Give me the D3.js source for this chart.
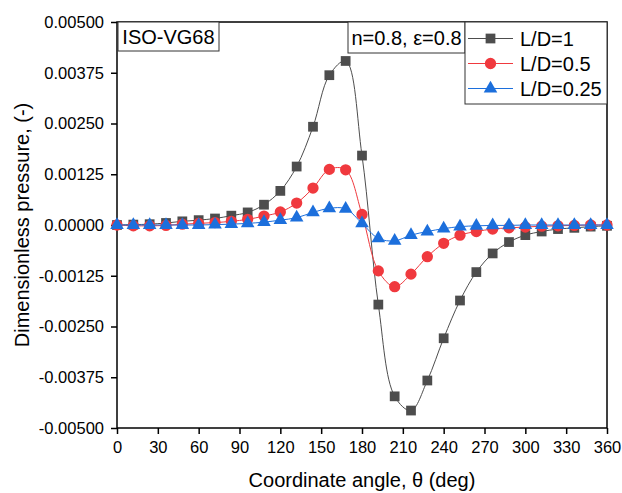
<!DOCTYPE html>
<html>
<head>
<meta charset="utf-8">
<script src="https://cdn.jsdelivr.net/npm/d3@7/dist/d3.min.js"></script>
<style>
  body { margin: 0; background: #fff; }
  text { font-family: "Liberation Sans", Arial, sans-serif; fill: #000; }
</style>
</head>
<body>
<div id="chart"></div>
<script>
// coordinate angle (deg)
const theta = [0, 12, 24, 36, 48, 60, 72, 84, 96, 108, 120, 132, 144, 156, 168, 180,
  192, 204, 216, 228, 240, 252, 264, 276, 288, 300, 312, 324, 336, 348, 360];

// dimensionless pressure
const ld1 = [0, 0.00001, 0.00002, 0.00005, 0.00009, 0.00012, 0.00016, 0.00023, 0.00031, 0.0005, 0.00084, 0.00144,
  0.00242, 0.00369, 0.00404, 0.00171, -0.00196, -0.00422, -0.00457, -0.00383, -0.00279, -0.00186,
  -0.00116, -0.0007, -0.00042, -0.00025, -0.00016, -0.0001, -0.00007, -0.00004, -0.00002];
const ld05 = [0, -0.00002, -0.00002, -0.00001, 0.00002, 0.00004, 0.00006, 0.00009, 0.00014, 0.00022, 0.00032, 0.00054,
  0.00091, 0.00137, 0.00136, 0.00026, -0.00113, -0.00152, -0.00121, -0.00078, -0.00045, -0.00025,
  -0.00016, -0.0001, -0.00007, -0.00005, -0.00003, -0.00002, -0.00001, 0, 0];
const ld025 = [0, 0, 0, 0, 0, 0, 0.00001, 0.00002, 0.00004, 0.00007, 0.00012, 0.00018,
  0.00031, 0.00041, 0.0004, 0.00004, -0.00033, -0.00039, -0.00025, -0.00016, -0.00009, -0.00004,
  -0.00002, -0.00001, -0.00001, 0, 0, 0, 0, 0, 0];

const xTicks = [0, 30, 60, 90, 120, 150, 180, 210, 240, 270, 300, 330, 360];
const yTicks = [-0.005, -0.00375, -0.0025, -0.00125, 0, 0.00125, 0.0025, 0.00375, 0.005];

const seriesNames = ["L/D=1", "L/D=0.5", "L/D=0.25"];
const seriesColors = ["#4d4d4d", "#f0393e", "#1c6fdc"];
const seriesSymbols = [d3.symbolSquare, d3.symbolCircle, d3.symbolTriangle];
const symbolSizes = [95, 100, 80];

const width = 622, height = 493;
const margin = { top: 22, right: 15, bottom: 65, left: 117 };
const w = width - margin.left - margin.right;
const h = height - margin.top - margin.bottom;

const svg = d3.select("#chart").append("svg")
  .attr("width", width)
  .attr("height", height);

const g = svg.append("g")
  .attr("transform", `translate(${margin.left},${margin.top})`);

const x = d3.scaleLinear().domain([0, 360]).range([0, w]);
const y = d3.scaleLinear().domain([-0.005, 0.005]).range([h, 0]);

// axes
const xAxis = g.append("g")
  .attr("transform", `translate(0,${h})`)
  .call(d3.axisBottom(x).tickValues(xTicks).tickSize(6).tickPadding(7).tickSizeOuter(0));
const yAxis = g.append("g")
  .call(d3.axisLeft(y).tickValues(yTicks).tickSize(6).tickPadding(7).tickSizeOuter(0)
    .tickFormat(d => d.toFixed(5)));

[xAxis, yAxis].forEach(a => {
  a.selectAll("text").style("font-size", "16.5px").style("font-family", "'Liberation Sans', Arial, sans-serif");
  a.selectAll("line").attr("stroke", "#000").attr("stroke-width", 1.5);
  a.select(".domain").remove();
});

// frame
g.append("rect")
  .attr("x", 0).attr("y", 0).attr("width", w).attr("height", h)
  .attr("fill", "none").attr("stroke", "#000").attr("stroke-width", 1.5);

// axis titles
svg.append("text")
  .attr("x", margin.left + w / 2).attr("y", 487)
  .attr("text-anchor", "middle").style("font-size", "20px")
  .text("Coordinate angle, θ (deg)");
svg.append("text")
  .attr("transform", `translate(29,${margin.top + h / 2}) rotate(-90)`)
  .attr("text-anchor", "middle").style("font-size", "20px")
  .text("Dimensionless pressure, (-)");

// series
const allSeries = [ld1, ld05, ld025];
const line = d3.line()
  .x(d => x(d[0]))
  .y(d => y(d[1]))
  .curve(d3.curveCatmullRom.alpha(0.5));

allSeries.forEach((vals, i) => {
  const pts = theta.map((t, k) => [t, vals[k]]);
  g.append("path")
    .datum(pts)
    .attr("d", line)
    .attr("fill", "none")
    .attr("stroke", seriesColors[i])
    .attr("stroke-width", 1);
  g.append("g").selectAll("path")
    .data(pts)
    .enter().append("path")
    .attr("transform", d => `translate(${x(d[0])},${y(d[1])})`)
    .attr("d", d3.symbol().type(seriesSymbols[i]).size(symbolSizes[i]))
    .attr("fill", seriesColors[i]);
});

// annotation boxes
const ann = g.append("g");
ann.append("rect")
  .attr("x", 1).attr("y", 0).attr("width", 101).attr("height", 29)
  .attr("fill", "#fff").attr("stroke", "#333").attr("stroke-width", 1);
ann.append("text")
  .attr("x", 51.5).attr("y", 22).attr("text-anchor", "middle")
  .style("font-size", "20px").text("ISO-VG68");

ann.append("rect")
  .attr("x", 231).attr("y", 0).attr("width", 117).attr("height", 31)
  .attr("fill", "#fff").attr("stroke", "#333").attr("stroke-width", 1);
ann.append("text")
  .attr("x", 289.5).attr("y", 23).attr("text-anchor", "middle")
  .style("font-size", "20px").text("n=0.8, ε=0.8");

// legend
const legend = g.append("g").attr("transform", `translate(${348},0)`);
legend.append("rect")
  .attr("x", 0).attr("y", 0).attr("width", w - 348).attr("height", 82)
  .attr("fill", "#fff").attr("stroke", "#333").attr("stroke-width", 1);
seriesNames.forEach((name, i) => {
  const ry = 16.5 + i * 25;
  legend.append("line")
    .attr("x1", 3).attr("x2", 48).attr("y1", ry).attr("y2", ry)
    .attr("stroke", seriesColors[i]).attr("stroke-width", 1);
  legend.append("path")
    .attr("transform", `translate(25.5,${ry})`)
    .attr("d", d3.symbol().type(seriesSymbols[i]).size(symbolSizes[i]))
    .attr("fill", seriesColors[i]);
  legend.append("text")
    .attr("x", 55).attr("y", ry + 7)
    .style("font-size", "20px").text(name);
});
</script>
</body>
</html>
